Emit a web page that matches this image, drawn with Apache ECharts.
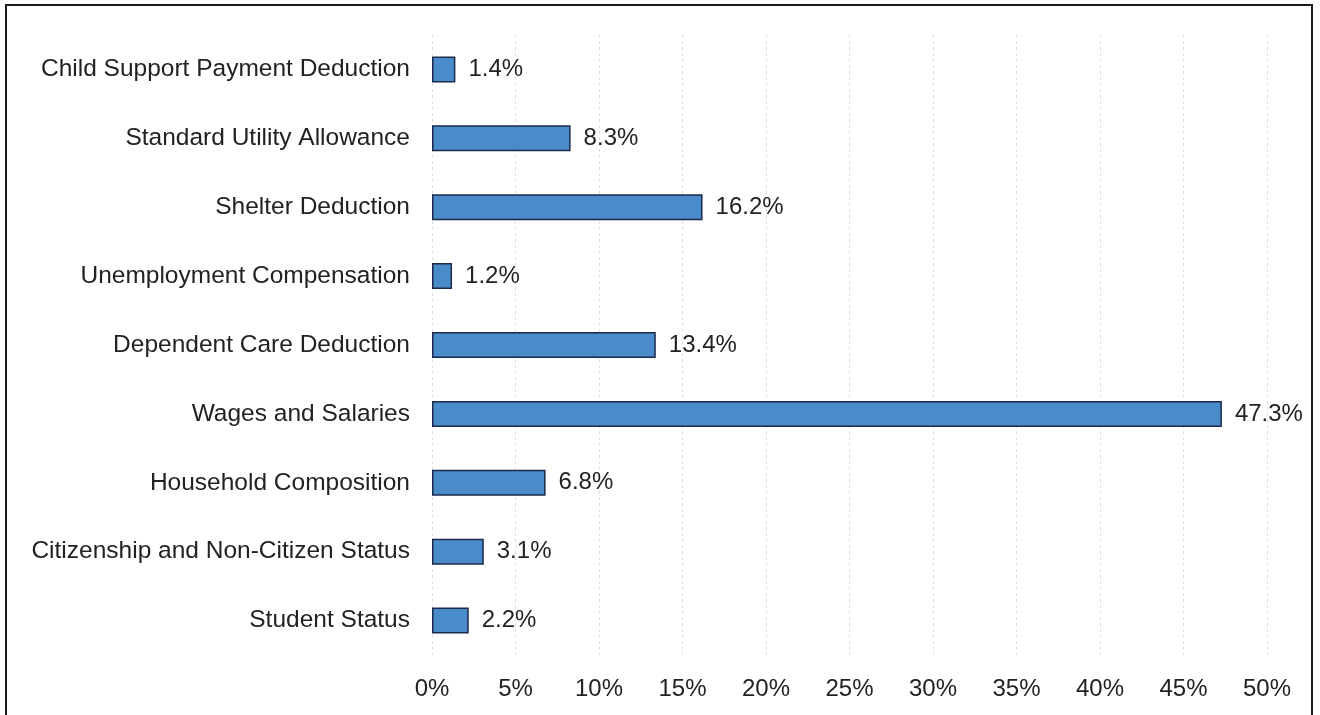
<!DOCTYPE html>
<html>
<head>
<meta charset="utf-8">
<script src="https://cdn.jsdelivr.net/npm/echarts@6/dist/echarts.min.js"></script>
<style>
  html, body { margin: 0; padding: 0; background: #fff; }
  .frame {
    position: absolute;
    left: 5px;
    top: 4px;
    width: 1308px;
    height: 740px;
    border: 2px solid #1a1a1a;
    box-sizing: border-box;
  }
  #chart { position: absolute; left: 0; top: 0; width: 1320px; height: 715px; }
</style>
</head>
<body>
<div class="frame"></div>
<div id="chart"></div>
<script>
// categories, top to bottom as in the picture
var categories = [
  'Child Support Payment Deduction',
  'Standard Utility Allowance',
  'Shelter Deduction',
  'Unemployment Compensation',
  'Dependent Care Deduction',
  'Wages and Salaries',
  'Household Composition',
  'Citizenship and Non-Citizen Status',
  'Student Status'
];
var percents = [1.4, 8.3, 16.2, 1.2, 13.4, 47.3, 6.8, 3.1, 2.2];
var xTicks = [0, 5, 10, 15, 20, 25, 30, 35, 40, 45, 50];

var font = '"Liberation Sans", Arial, sans-serif';

var myChart = echarts.init(document.getElementById('chart'));
myChart.setOption({
  backgroundColor: 'transparent',
  animation: false,
  grid: {
    left: 432,
    right: 53,
    top: 35,
    bottom: 60
  },
  xAxis: {
    type: 'value',
    min: xTicks[0],
    max: xTicks[xTicks.length - 1],
    interval: 5,
    axisLine: { show: false },
    axisTick: { show: false },
    axisLabel: {
      formatter: '{value}%',
      color: '#222',
      fontSize: 24,
      fontFamily: font,
      margin: 22
    },
    splitLine: {
      show: true,
      lineStyle: { color: '#dedede', width: 1, type: [3, 3] }
    }
  },
  yAxis: {
    type: 'category',
    inverse: true,
    data: categories,
    axisLine: { show: false },
    axisTick: { show: false },
    axisLabel: {
      color: '#222',
      fontSize: 24.5,
      fontFamily: font,
      margin: 22
    }
  },
  series: [{
    type: 'bar',
    data: percents,
    barWidth: 26,
    itemStyle: {
      color: '#4a8cc9',
      borderColor: '#1b2a4c',
      borderWidth: 1.5
    },
    label: {
      show: true,
      position: 'right',
      distance: 13,
      formatter: '{c}%',
      color: '#222',
      fontSize: 24,
      fontFamily: font
    }
  }]
});
</script>
</body>
</html>
